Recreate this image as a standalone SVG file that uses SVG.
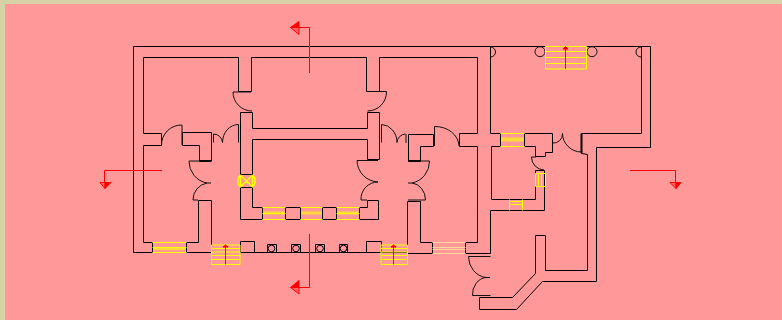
<svg xmlns="http://www.w3.org/2000/svg" width="782" height="320" viewBox="0 0 782 320">
<style>
.w{fill:none;stroke:#000;stroke-width:1}
.t{fill:none;stroke:#000;stroke-width:2}
.d{fill:none;stroke:#111;stroke-width:1}
.y{fill:none;stroke:#ff0;stroke-width:1}
.b{fill:none;stroke:#ffd83a;stroke-width:3}
.p{fill:none;stroke:#ffd8a0;stroke-width:1}
.r{fill:none;stroke:#f00;stroke-width:1}
.h{fill:#f00;stroke:#f00;stroke-width:1}
.l{fill:#f00;fill-opacity:.35;stroke:#f00;stroke-width:1}
</style>
<rect width="782" height="320" fill="#d6d2a6"/>
<rect x="5" y="4" width="777" height="316" fill="#ff9999"/>
<g id="walls">
<path class="w" d="M133.500 46.500H650.500V147.500H596.500V281.500H542.500L516.500 309.500H479.500V297.500H512.500L535.500 273.500V235.500H545.500V270.500H587.500V154.500L581.500 153.500V133.500H641.500V46.500"/>
<path class="w" d="M133.500 46.500V252.500H152.500M143.500 57.500H238.500V91.500H251.500V57.500"/>
<path class="w" d="M143.500 57.500V133.500H161.500V145.500H143.500V242.500H152.500M152.500 242.500V252.500M186.500 242.500V252.500"/>
<path class="w" d="M186.500 242.500H198.500V200.500H211.500V252.500H186.500Z"/>
<path class="w" d="M211.500 161.500V132.500H182.500V145.500H199.500V161.500"/>
<path class="w" d="M251.500 57.500H366.500V91.500H379.500V57.500H477.500V133.500H459.500V146.500H477.500V242.500H465.500V253.500H490.500V210.500H544.500V170.500H535.500V186.500V199.500H491.500V146.500H500.500V133.500H490.500V46.500"/>
<path class="w" d="M465.500 253.500H432.500M432.500 242.500H420.500V201.500H407.500V253.500H432.500V242.500"/>
<path class="w" d="M408.500 161.500V134.500H433.500V146.500H420.500V161.500"/>
<path class="w" d="M240.500 174.500V112.500H252.500V128.500H367.500V112.500H379.500V159.500H367.500V139.500H252.500V174.500"/>
<path class="w" d="M240.500 187.500V219.500H262.500M252.500 187.500V207.500H262.500V219.500M240.500 174.500H252.500M240.500 187.500H252.500"/>
<path class="w" d="M359.500 207.500H367.500V200.500H378.500V219.500H359.500Z"/>
<path class="w" d="M285.500 207.500H300.500V219.500H285.500ZM322.500 207.500H336.500V219.500H322.500Z"/>
<path class="w" d="M240.500 252.500H407.500M240.500 252.500V241.500H254.500V252.500M366.500 252.500V241.500H381.500V252.500"/>
<path class="w" d="M267.500 252.500V244.500H276.500V252.500M291.500 252.500V244.500H300.500V252.500M315.500 252.500V244.500H324.500V252.500M339.500 252.500V244.500H347.500V252.500"/>
<circle class="w" cx="271.500" cy="248.500" r="3.300"/><circle class="w" cx="296" cy="248.500" r="3.300"/><circle class="w" cx="320" cy="248.500" r="3.300"/><circle class="w" cx="343.500" cy="248.500" r="3.300"/>
<path class="w" d="M524.500 133.500H552.500V152.500H545.500V156.500H535.500V146.500H524.500Z"/>
<path class="t" d="M581.500 133.500V153M199.500 161H211M408.500 161H420.500"/>
</g>
<g id="doors">
<path class="d" d="M233 92H251M233 92A19 19 0 0 0 252 111"/>
<path class="d" d="M386.500 91.500H367M386.500 91.500A19 19 0 0 1 367.500 111"/>
<path class="d" d="M161.500 145.500A20 20 0 0 1 182 125V145"/>
<path class="d" d="M213.500 142.500V134A9 9 0 0 1 222.500 142.500A16 18 0 0 1 238.500 124.500V142.500"/>
<path class="d" d="M381.500 142.500V124.500A16 18 0 0 1 397 142.500A9 9 0 0 1 405.500 134M406 134V143"/>
<path class="d" d="M434.500 146V126.500A24 20 0 0 1 459 146"/>
<path class="d" d="M189 161H211M189 161A22 22 0 0 0 207 183M207 183H211M207 183A17 17 0 0 0 193 200H198"/>
<path class="d" d="M429.500 161H408M429.500 161A22 22 0 0 1 412 183H408M412 183A15 17 0 0 1 425.500 200H408"/>
<path class="d" d="M357 160.500H378M357 160.500A22 22 0 0 0 378 182M378 182A17 17 0 0 0 361 200H367"/>
<path class="d" d="M562.500 133.500A19 19 0 0 0 581 152M562.500 133.500A9 9 0 0 1 552.500 143"/>
<path class="d" d="M531.500 157H536M531.500 157A13 13 0 0 0 544 170"/>
<path class="d" d="M468.500 256.500H490.500M468.500 256.500A20 21 0 0 0 486 277.500H490M486 277.500A15 17 0 0 0 472.500 295.500H490.500"/>
<path class="d" d="M490.500 47A5 5 0 0 1 490.500 57M641 47A5 5 0 0 0 641 57"/>
<circle class="d" cx="540" cy="51.700" r="5"/><circle class="d" cx="592" cy="51.700" r="5"/>
</g>
<g id="windows">
<path class="b" d="M153 248.500H186M263 213H285M301 213H322M337 213H359"/>
<path class="y" d="M152.500 242.500H186.500M152.500 252.500H186.500M152.500 247.500H186.500"/>
<path class="b" style="stroke-width:4" d="M501 139.500H524"/>
<path class="y" d="M262.500 207.500H285.500M262.500 219.500H285.500M262.500 213.500H285.500M300.500 207.500H322.500M300.500 219.500H322.500M336.500 207.500H359.500M336.500 219.500H359.500M336.500 213.500H359.500"/>
<path class="y" d="M500.500 133.500H524.500M500.500 146.500H524.500"/>
<path class="p" d="M432.500 242.500H465.500M432.500 253.500H465.500M432.500 247.500H465.500M432.500 249.500H465.500"/>
<path class="y" d="M535.500 173.500H545.500V186.500H535.500ZM538.500 173.500V186.500M541.500 173.500V186.500"/>
<path class="y" d="M509.500 199.500V210.500M522.500 199.500V210.500M509.500 201.500H522.500M509.500 204.500H522.500"/>
<path class="y" style="stroke-width:1.500" d="M240.500 175L252.500 187M252.500 175L240.500 187M240.500 175V187M252.500 175V187M240.500 175A8 8 0 0 0 240.500 187M252.500 175A8 8 0 0 1 252.500 187"/>
</g>
<g id="stairs">
<path class="y" d="M211.500 245H240V264.500H211.500ZM211.500 248.500H240M211.500 252H240M211.500 255.500H240M211.500 259.500H240"/>
<path class="y" d="M381 245H407.500V264.500H381ZM381 248.500H407.500M381 252H407.500M381 255.500H407.500M381 259.500H407.500"/>
<path class="y" d="M545.500 46.500H586.500V69H545.500ZM545.500 51.500H586.500M545.500 57.500H586.500M545.500 63.500H586.500"/>
</g>
<g id="connectors">
<path class="r" d="M225.500 264.500V247M393.500 264.500V247M565.500 69V48M309.500 73V27.500H299M309.500 234V287.500H299M162 170.500H104.500V182M630 170.500H675.500V182"/>
<path class="h" d="M223 247H228L225.500 245ZM391 247H396L393.500 245ZM563 49H568L565.500 46.500Z"/>
<path class="h" d="M290.500 27.500L299 21.500V27.500Z"/><path class="l" d="M290.500 27.500L299 34.500V27.500Z"/>
<path class="h" d="M290.500 287.500L299 280.500V287.500Z"/><path class="l" d="M290.500 287.500L299 294V287.500Z"/>
<path class="h" d="M105 188.500L111 182.500H105Z"/><path class="l" d="M105 188.500L100 182.500H105Z"/>
<path class="h" d="M676 188.500L681 182.500H676Z"/><path class="l" d="M676 188.500L670 182.500H676Z"/>
</g>
</svg>
